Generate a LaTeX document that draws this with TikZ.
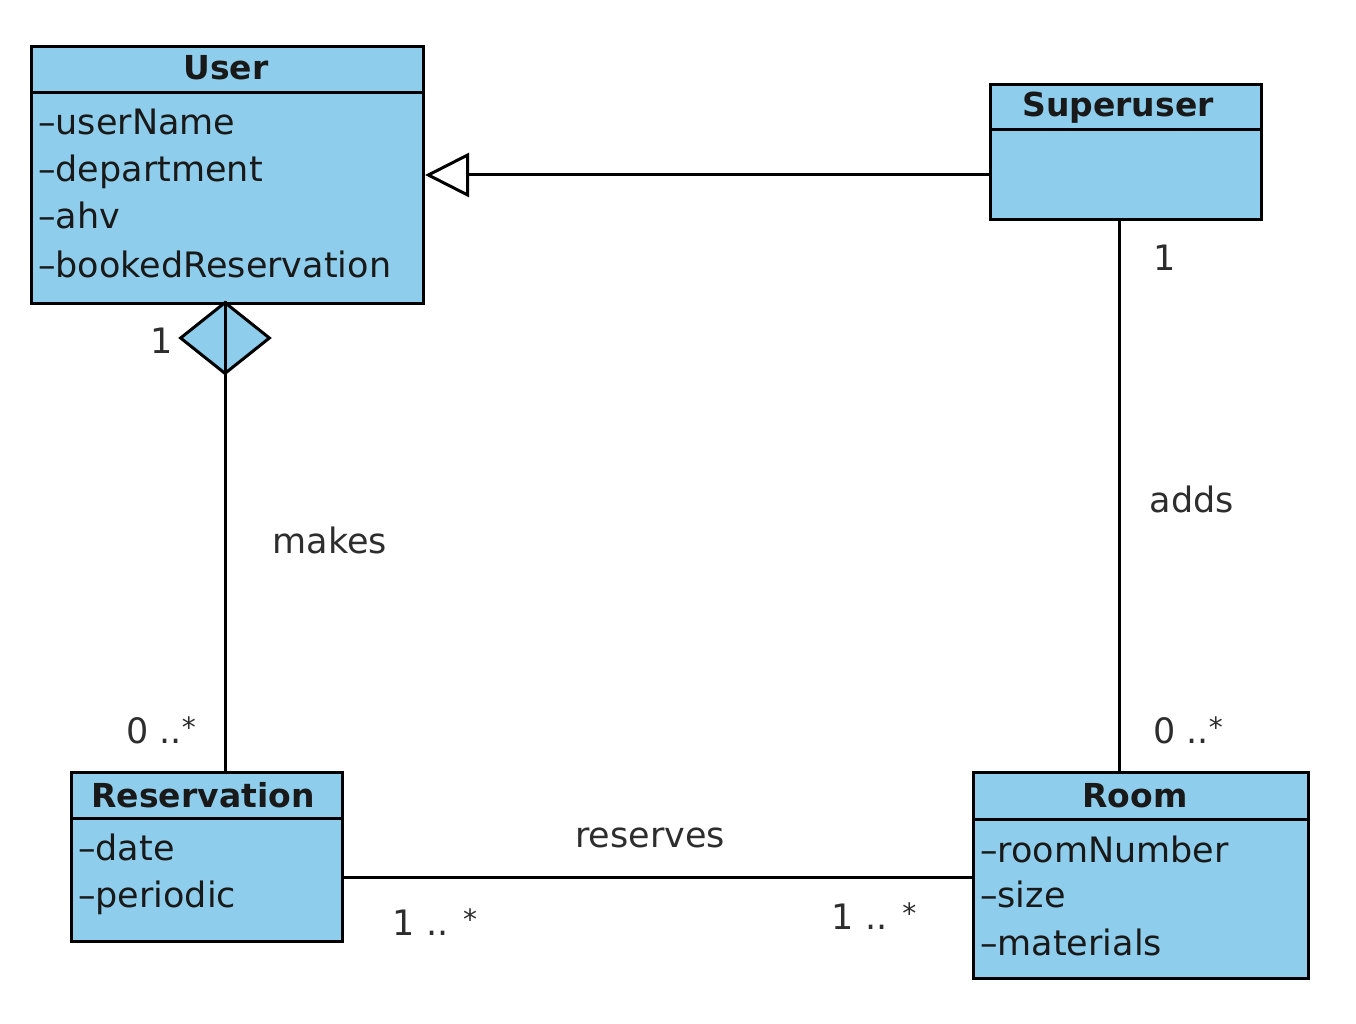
\documentclass[tikz,border=0pt]{standalone}
\usepackage{fontspec}
\setmainfont{DejaVu Sans}
\usetikzlibrary{arrows.meta,shapes.geometric}
\definecolor{umlblue}{RGB}{142,206,236}
\definecolor{lblgray}{RGB}{45,45,45}
\newcommand{\smstar}{\raisebox{6pt}{\fontsize{28}{30}\selectfont *}}
\tikzset{
  classbox/.style={draw=black, fill=umlblue, line width=3pt, anchor=north west, inner sep=0pt},
  hdr/.style={anchor=base, inner sep=0pt, font=\fontsize{33}{40}\selectfont\bfseries, text=black!90},
  attr/.style={anchor=base west, inner sep=0pt, font=\fontsize{35}{42}\selectfont, text=black!90},
  lbl/.style={anchor=base, inner sep=0pt, font=\fontsize{35}{42}\selectfont, text=lblgray},
  conn/.style={line width=3pt, draw=black},
  genarrow/.style={conn, -{Triangle[open, length=44pt, width=44pt, line width=3pt]}},
  aggdiamond/.style={shape=diamond, draw=black, fill=umlblue, line width=3pt, minimum width=90pt, minimum height=72pt, inner sep=0pt}
}
\begin{document}
\begin{tikzpicture}[x=1pt, y=-1pt]
\useasboundingbox (0,0) rectangle (1356,1024);
% User
\node[classbox, minimum width=392pt, minimum height=257pt] (user) at (30,45) {};
\draw[line width=3pt] ([yshift=-48pt]user.north west) -- ([yshift=-48pt]user.north east);
\node[hdr] (userT) at (226,80) {User};
\node[attr] (u1) at (38,135) {–userName};
\node[attr] (u2) at (38,182) {–department};
\node[attr] (u3) at (38,229) {–ahv};
\node[attr] (u4) at (38,277) {–bookedReservation};
% Superuser
\node[classbox, minimum width=271pt, minimum height=135pt] (super) at (989,83) {};
\draw[line width=3pt] ([yshift=-47pt]super.north west) -- ([yshift=-47pt]super.north east);
\node[hdr] (superT) at (1118,117) {Superuser};
% Reservation
\node[classbox, minimum width=271pt, minimum height=169pt] (res) at (70,771) {};
\draw[line width=3pt] ([yshift=-47pt]res.north west) -- ([yshift=-47pt]res.north east);
\node[hdr] (resT) at (203,807) {Reservation};
\node[attr] (r1) at (78,860) {–date};
\node[attr] (r2) at (78,907) {–periodic};
% Room
\node[classbox, minimum width=335pt, minimum height=206pt] (room) at (972,771) {};
\draw[line width=3pt] ([yshift=-48pt]room.north west) -- ([yshift=-48pt]room.north east);
\node[hdr] (roomT) at (1135,807) {Room};
\node[attr] (m1) at (980,862) {–roomNumber};
\node[attr] (m2) at (980,907) {–size};
\node[attr] (m3) at (980,955) {–materials};
% Generalization
\draw[genarrow] (super.west |- user.east) -- (user.east);
% Aggregation
\node[aggdiamond] (agg) at (225,338) {};
\draw[conn] (agg.north) -- (agg.south |- res.north);
\node[lbl] (aggM1) at (162,353) {1};
\node[lbl] (aggLbl) at (330,553) {makes};
\node[lbl] (aggM2) at (161,743) {0 ..\smstar};
% Superuser - Room
\draw[conn] ([xshift=-6.5pt]super.south) -- ([xshift=-6.5pt]super.south |- room.north);
\node[lbl] (addM1) at (1165,270) {1};
\node[lbl] (addLbl) at (1192,512) {adds};
\node[lbl] (addM2) at (1188,743) {0 ..\smstar};
% Reservation - Room
\draw[conn] (res.east |- 0,877) -- (room.west |- 0,877);
\node[lbl] (rsvLbl) at (650,847) {reserves};
\node[lbl] (rsvM1) at (435,935) {1 .. \smstar};
\node[lbl] (rsvM2) at (874,929) {1 .. \smstar};
\end{tikzpicture}
\end{document}
